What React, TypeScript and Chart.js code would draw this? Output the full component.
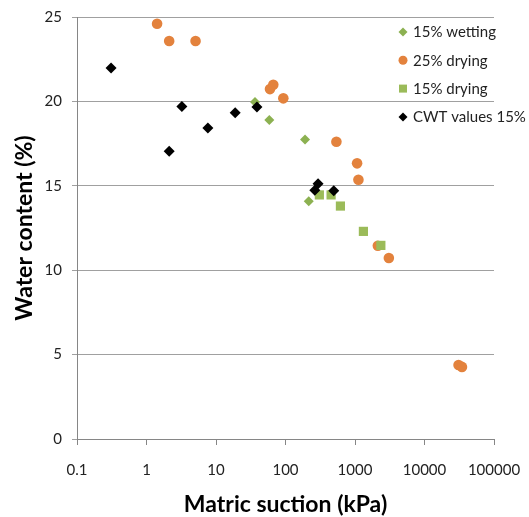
import React, { useEffect, useRef } from 'react';
import { Chart, registerables } from 'chart.js';

Chart.register(...registerables);

// ---- data ----
const xTickValues = [0.1, 1, 10, 100, 1000, 10000, 100000];

const wettingLabel = '15% wetting';
const wettingX = [36.4, 58.5, 191, 216];
const wettingY = [19.96, 18.9, 17.75, 14.08];

const drying25Label = '25% drying';
const drying25X = [1.42, 2.12, 5.08, 59.8, 66.7, 93, 540, 1072, 1120, 2133, 3070, 30900, 34600];
const drying25Y = [24.6, 23.58, 23.58, 20.73, 20.99, 20.18, 17.61, 16.33, 15.36, 11.45, 10.72, 4.38, 4.27];

const drying15Label = '15% drying';
const drying15X = [307, 453, 617, 1321, 2355];
const drying15Y = [14.46, 14.46, 13.8, 12.3, 11.47];

const cwtLabel = 'CWT values 15%';
const cwtX = [0.309, 2.12, 3.23, 7.64, 18.9, 38.8, 264, 294, 495];
const cwtY = [21.98, 17.04, 19.7, 18.42, 19.33, 19.67, 14.73, 15.12, 14.71];

const toPoints = (xs: number[], ys: number[]) => xs.map((x, i) => ({ x, y: ys[i] }));

const ORANGE = '#E3823D';
const GREEN_D = '#8CB151';
const GREEN_S = '#9BBB59';
const BLACK = '#000000';
const FONT = "Lato, 'Open Sans', sans-serif";

const legendPlugin = {
  id: 'insideLegend',
  afterDraw(chart: any) {
    const ctx = chart.ctx as CanvasRenderingContext2D;
    const area = chart.chartArea;
    const baseX = area.right - 91;
    const baseY = area.top + 15;
    const step = 28.3;
    ctx.save();
    ctx.font = `15px ${FONT}`;
    ctx.textBaseline = 'middle';
    ctx.textAlign = 'left';
    chart.data.datasets.forEach((ds: any, i: number) => {
      const cx = baseX;
      const cy = baseY + i * step;
      ctx.fillStyle = ds.backgroundColor;
      ctx.beginPath();
      if (ds.pointStyle === 'circle') {
        ctx.arc(cx, cy, 4.5, 0, Math.PI * 2);
      } else if (ds.pointStyle === 'rect') {
        ctx.rect(cx - 4, cy - 4, 8, 8);
      } else {
        ctx.moveTo(cx - 4.5, cy);
        ctx.lineTo(cx, cy - 4.5);
        ctx.lineTo(cx + 4.5, cy);
        ctx.lineTo(cx, cy + 4.5);
        ctx.closePath();
      }
      ctx.fill();
      ctx.fillStyle = '#222';
      ctx.fillText(ds.label, cx + 10, cy + 0.5);
    });
    ctx.restore();
  },
};

export default function App() {
  const ref = useRef<HTMLCanvasElement | null>(null);

  useEffect(() => {
    if (!ref.current) return;
    const chart = new Chart(ref.current, {
      type: 'scatter',
      data: {
        datasets: [
          {
            label: wettingLabel,
            data: toPoints(wettingX, wettingY),
            pointStyle: 'rectRot',
            pointRadius: 5,
            backgroundColor: GREEN_D,
            borderColor: GREEN_D,
            borderWidth: 0,
            order: 4,
          },
          {
            label: drying25Label,
            data: toPoints(drying25X, drying25Y),
            pointStyle: 'circle',
            pointRadius: 5.3,
            backgroundColor: ORANGE,
            borderColor: ORANGE,
            borderWidth: 0,
            order: 3,
          },
          {
            label: drying15Label,
            data: toPoints(drying15X, drying15Y),
            pointStyle: 'rect',
            pointRadius: 6.5,
            backgroundColor: GREEN_S,
            borderColor: GREEN_S,
            borderWidth: 0,
            order: 2,
          },
          {
            label: cwtLabel,
            data: toPoints(cwtX, cwtY),
            pointStyle: 'rectRot',
            pointRadius: 5.5,
            backgroundColor: BLACK,
            borderColor: BLACK,
            borderWidth: 0,
            order: 1,
          },
        ],
      },
      options: {
        animation: false,
        responsive: false,
        maintainAspectRatio: false,
        layout: { padding: { top: 17, right: 35, left: 0, bottom: 0 } },
        plugins: {
          legend: { display: false },
          tooltip: { enabled: false },
        },
        scales: {
          x: {
            type: 'logarithmic',
            min: 0.1,
            max: 100000,
            afterBuildTicks: (scale: any) => {
              scale.ticks = xTickValues.map((v) => ({ value: v }));
            },
            afterFit: (scale: any) => {
              scale.height = 78;
              scale.paddingLeft = 0;
              scale.paddingRight = 0;
            },
            grid: {
              display: true,
              drawOnChartArea: false,
              drawTicks: true,
              tickLength: 6,
              color: '#868686',
            },
            border: { display: true, color: '#868686' },
            ticks: {
              autoSkip: false,
              maxRotation: 0,
              padding: 16,
              color: '#222',
              font: { family: FONT, size: 15 },
              callback: (v: any) => String(v),
            },
            title: {
              display: true,
              text: 'Matric suction (kPa)',
              color: '#000',
              font: { family: FONT, size: 23, weight: 'bold' },
              padding: { top: 0, bottom: -1 },
            },
          },
          y: {
            min: 0,
            max: 25,
            afterFit: (scale: any) => {
              scale.width = 77;
              scale.paddingTop = 0;
              scale.paddingBottom = 0;
            },
            grid: {
              display: true,
              drawOnChartArea: true,
              drawTicks: true,
              tickLength: 5,
              color: '#A0A0A0',
            },
            border: { display: true, color: '#868686' },
            ticks: {
              stepSize: 5,
              padding: 10,
              color: '#222',
              font: { family: FONT, size: 15 },
            },
            title: {
              display: true,
              text: 'Water content (%)',
              color: '#000',
              font: { family: FONT, size: 23, weight: 'bold' },
              padding: { top: 11, bottom: 0 },
            },
          },
        },
      },
      plugins: [legendPlugin],
    } as any);
    return () => chart.destroy();
  }, []);

  return (
    <div style={{ position: 'fixed', left: 0, top: 0, width: 529, height: 517, background: '#fff' }}>
      <canvas ref={ref} width={529} height={517} style={{ width: 529, height: 517 }} />
    </div>
  );
}
